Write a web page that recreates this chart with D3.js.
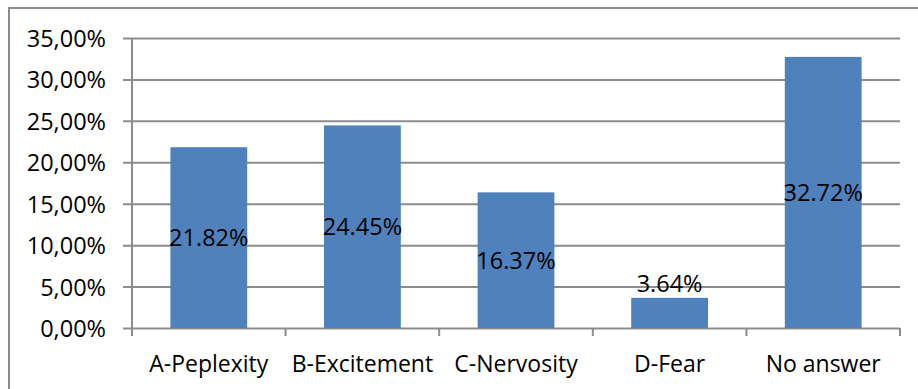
<!DOCTYPE html>
<html>
<head>
<meta charset="utf-8">
<script src="https://cdn.jsdelivr.net/npm/d3@7"></script>
<style>
  html, body { margin: 0; padding: 0; background: #fff; }
  svg { display: block; }
  text { font-family: "Open Sans", "Noto Sans", sans-serif; fill: #000; }
</style>
</head>
<body>
<script>
// Answer categories and their share of responses (percent)
const categories = ["A-Peplexity", "B-Excitement", "C-Nervosity", "D-Fear", "No answer"];
const shares = [21.82, 24.45, 16.37, 3.64, 32.72];
const tickValues = [0, 5, 10, 15, 20, 25, 30, 35];

const W = 918, H = 389;
const margin = { left: 132, right: 18, top: 38, bottom: 61 };

const svg = d3.select("body").append("svg")
  .attr("width", W).attr("height", H);

// chart frame
svg.append("path")
  .attr("d", `M9,${H + 5} L9,8 L${W + 5},8`)
  .attr("fill", "none")
  .attr("stroke", "#8c8c8c")
  .attr("stroke-width", 2);

const x = d3.scaleBand()
  .domain(categories)
  .range([margin.left, W - margin.right])
  .paddingInner(0.5)
  .paddingOuter(0.25);

const y = d3.scaleLinear()
  .domain([0, 35])
  .range([H - margin.bottom, margin.top]);

const fmt = v => v.toFixed(2).replace(".", ",") + "%";

// gridlines + y axis
const yAxis = d3.axisLeft(y)
  .tickValues(tickValues)
  .tickFormat(fmt)
  .tickSize(-(W - margin.right - margin.left))
  .tickPadding(26);

const gy = svg.append("g")
  .attr("transform", `translate(${margin.left},0)`)
  .call(yAxis);
gy.select(".domain").remove();
gy.selectAll(".tick line")
  .attr("x1", -9)
  .attr("stroke", "#8c8c8c")
  .attr("stroke-width", 2);
gy.selectAll(".tick text")
  .attr("font-size", 23.5)
  .attr("dy", "0.36em");

// vertical axis line
svg.append("line")
  .attr("x1", margin.left).attr("x2", margin.left)
  .attr("y1", margin.top).attr("y2", y(0) + 8)
  .attr("stroke", "#8c8c8c").attr("stroke-width", 2);

// category ticks along the baseline
const edges = categories.map(c => x(c) - x.step() * x.paddingInner() / 2);
edges.push(W - margin.right);
svg.append("g").selectAll("line")
  .data(edges)
  .join("line")
  .attr("x1", d => d).attr("x2", d => d)
  .attr("y1", y(0)).attr("y2", y(0) + 8)
  .attr("stroke", "#8c8c8c").attr("stroke-width", 2);

// bars
svg.append("g").selectAll("rect")
  .data(shares)
  .join("rect")
  .attr("x", (d, i) => x(categories[i]))
  .attr("width", x.bandwidth())
  .attr("y", d => y(d))
  .attr("height", d => y(0) - y(d))
  .attr("fill", "#4f81bd");

// value labels: centred in the bar, above it when the bar is short
svg.append("g").selectAll("text")
  .data(shares)
  .join("text")
  .attr("x", (d, i) => x(categories[i]) + x.bandwidth() / 2)
  .attr("y", d => d < 8 ? y(d) - 14 : (y(d) + y(0)) / 2)
  .attr("dy", "0.36em")
  .attr("text-anchor", "middle")
  .attr("font-size", 23.5)
  .text(d => d.toFixed(2) + "%");

// category labels
svg.append("g").selectAll("text")
  .data(categories)
  .join("text")
  .attr("x", d => x(d) + x.bandwidth() / 2)
  .attr("y", y(0) + 36)
  .attr("dy", "0.36em")
  .attr("text-anchor", "middle")
  .attr("font-size", 23)
  .text(d => d);
</script>
</body>
</html>
